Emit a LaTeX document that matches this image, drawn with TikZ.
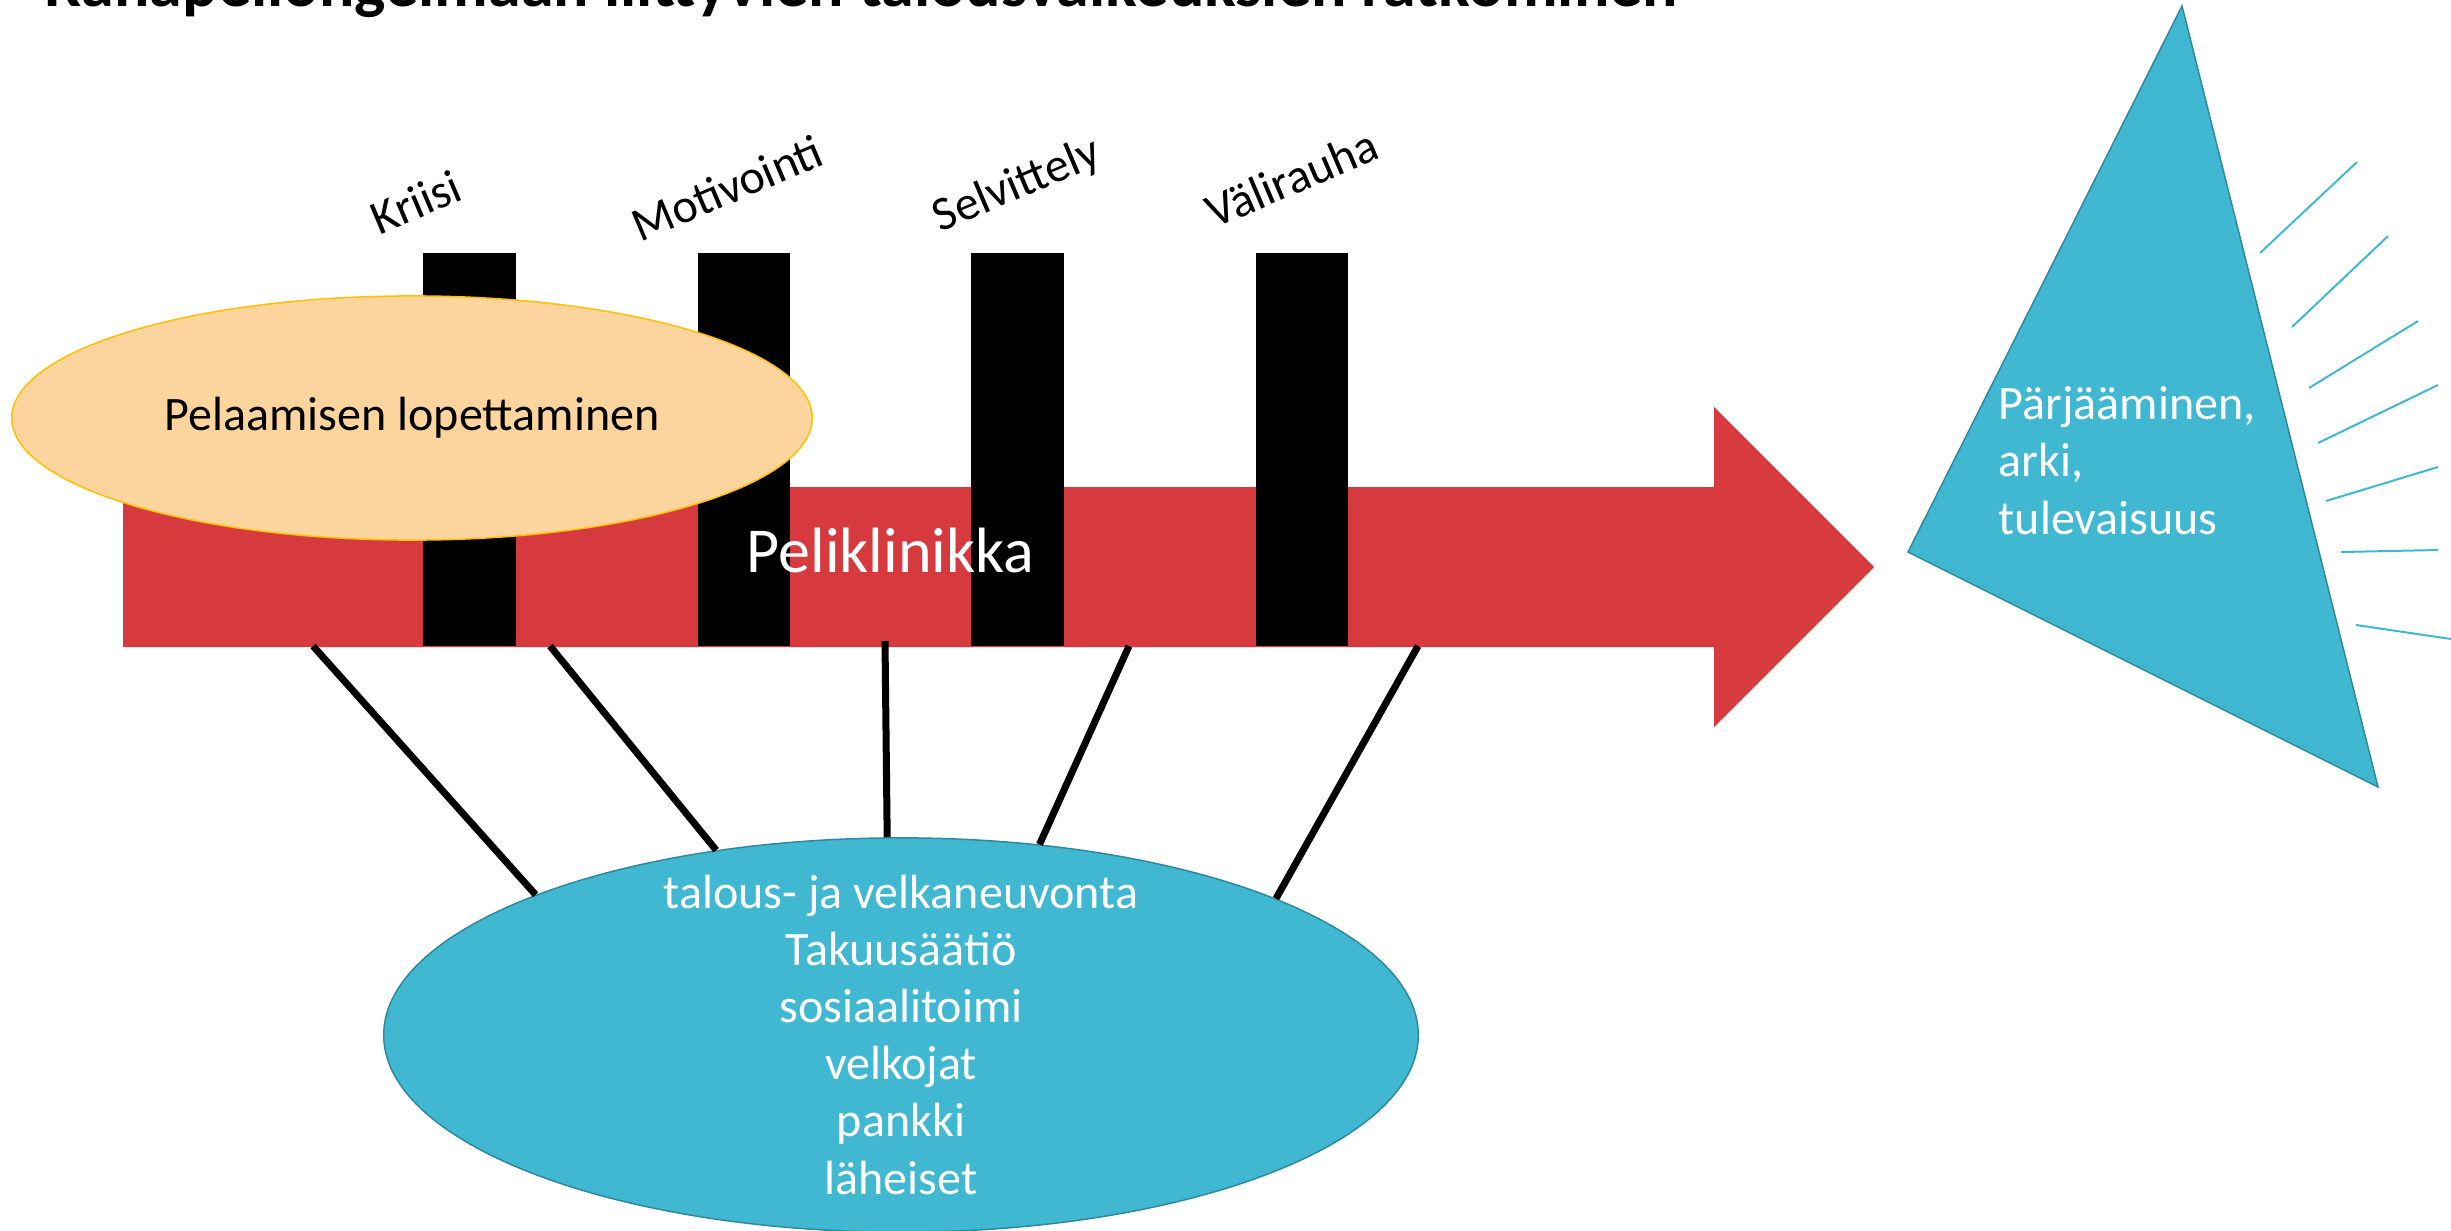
\documentclass[tikz,border=0pt]{standalone}
\usepackage{fontspec}
\setmainfont{Carlito}
\usetikzlibrary{shapes.geometric}
\definecolor{arrowred}{RGB}{214,58,63}
\definecolor{peach}{RGB}{251,212,158}
\definecolor{gold}{RGB}{255,192,0}
\definecolor{aqua}{RGB}{65,184,210}
\definecolor{aquadark}{RGB}{47,137,158}
\begin{document}
\begin{tikzpicture}[x=0.01cm,y=-0.01cm,
  txt/.style={inner sep=0pt,font=\fontsize{13.66pt}{16.22pt}\selectfont},
  stagebar/.style={rectangle,fill=black,draw=none,inner sep=0pt,minimum width=0.92cm,minimum height=3.93cm},
  stagelabel/.style={txt,rotate=23},
  connector/.style={draw=black,line width=0.07cm},
  ray/.style={draw=aqua,line width=0.02cm},
  blob/.style={ellipse,inner sep=0pt,line width=0.015cm}]
\useasboundingbox (0,0) rectangle (2451,1230);
\clip (0,0) rectangle (2451,1230);
% title (cut off at the top)
\node[inner sep=0pt,anchor=base west,font=\fontsize{18.78pt}{22pt}\selectfont\bfseries] (title) at (44,7) {Rahapeliongelmaan liittyvien talousvaikeuksien ratkominen};
% big red arrow
\fill[arrowred] (123,487) -- (1714,487) -- (1714,407) -- (1874,567) -- (1714,727) -- (1714,647) -- (123,647) -- cycle;
% stage bars
\node[stagebar] (b1) at (469.5,449.5) {};
\node[stagebar] (b2) at (744,449.5) {};
\node[stagebar] (b3) at (1017.5,449.5) {};
\node[stagebar] (b4) at (1302,449.5) {};
% stage labels
\node[stagelabel] (l1) at (416,202) {Kriisi};
\node[stagelabel] (l2) at (727,188) {Motivointi};
\node[stagelabel] (l3) at (1017,186) {Selvittely};
\node[stagelabel] (l4) at (1292,178) {Välirauha};
% clinic text
\node[inner sep=0pt,anchor=base west,text=white,font=\fontsize{18.21pt}{22pt}\selectfont] (clinic) at (746,572) {Peliklinikka};
% stop gambling ellipse
\node[blob,fill=peach,draw=gold,minimum width=8cm,minimum height=2.44cm,font=\fontsize{13.66pt}{16.22pt}\selectfont] (stop) at (412,418) {Pelaamisen lopettaminen};
% partners ellipse
\node[blob,fill=aqua,draw=aquadark,minimum width=10.34cm,minimum height=3.94cm] (partners) at (901,1035) {};
\node[txt,anchor=base,align=center,text=white] (partnertext) at (901,1194) {talous- ja velkaneuvonta\\Takuusäätiö\\sosiaalitoimi\\velkojat\\pankki\\läheiset};
% connectors
\coordinate (c1) at (313,646);
\coordinate (c2) at (550,646);
\coordinate (c3) at (885,641);
\coordinate (c4) at (1129,646);
\coordinate (c5) at (1418,646);
\draw[connector] (c1) -- (partners.159.2);
\draw[connector] (c2) -- (partners.135);
\draw[connector] (c3) -- (partners.94.1);
\draw[connector] (c4) -- (partners.54.3);
\draw[connector] (c5) -- (partners.20.9);
% goal triangle
\coordinate (tA) at (2182,6);
\coordinate (tB) at (1908,552);
\coordinate (tC) at (2378,787);
\filldraw[fill=aqua,draw=aquadark,line width=0.015cm] (tA) -- (tB) -- (tC) -- cycle;
\node[txt,anchor=base west,align=left,text=white] (goal) at (1998,534) {Pärjääminen,\\arki,\\tulevaisuus};
% rays
\draw[ray] (2260,253) -- (2357,162);
\draw[ray] (2292,327) -- (2388,236);
\draw[ray] (2309,388) -- (2418,321);
\draw[ray] (2318,443) -- (2438,385);
\draw[ray] (2326,501) -- (2438,467);
\draw[ray] (2341,552) -- (2438,550);
\draw[ray] (2356,625) -- (2451,639);
\end{tikzpicture}
\end{document}
